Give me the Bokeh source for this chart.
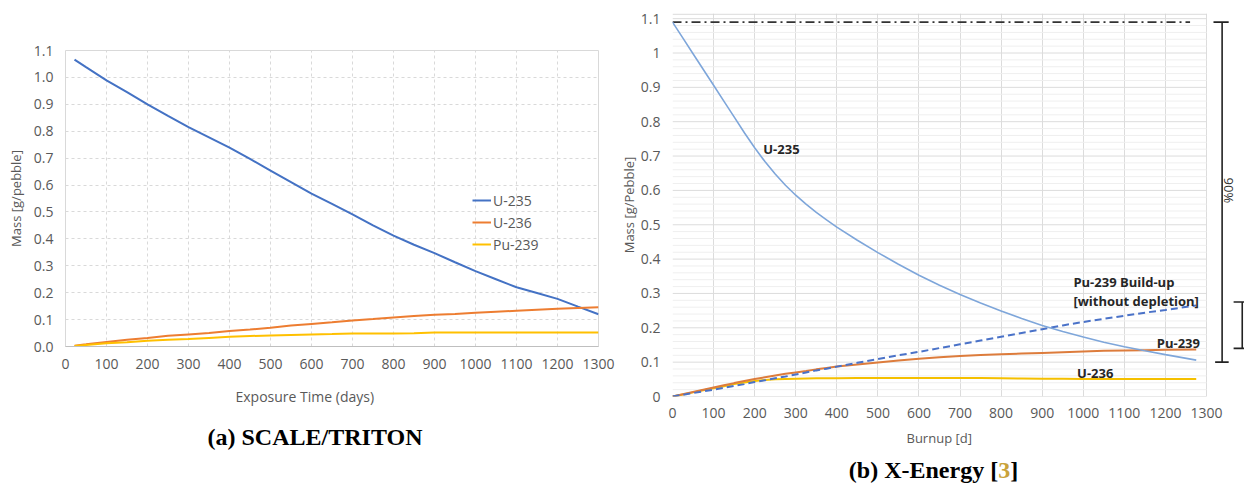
import numpy as np
from bokeh.plotting import figure
from bokeh.models import FixedTicker, Div, Title
from bokeh.layouts import row, column
from bokeh.embed import file_html
from bokeh.resources import INLINE
from bokeh.core.properties import value

# ---------------- (a) SCALE/TRITON data ----------------
a_days = [22, 50, 100, 150, 200, 250, 300, 350, 400, 450, 500, 550, 600, 650,
          700, 750, 800, 850, 900, 950, 1000, 1050, 1100, 1150, 1200, 1250, 1300]
a_u235 = [1.066, 1.038, 0.989, 0.945, 0.900, 0.857, 0.815, 0.777, 0.739, 0.697,
          0.654, 0.611, 0.568, 0.530, 0.491, 0.450, 0.412, 0.378, 0.347, 0.313,
          0.280, 0.250, 0.220, 0.199, 0.177, 0.148, 0.120]
a_u236 = [0.003, 0.008, 0.017, 0.025, 0.032, 0.040, 0.045, 0.050, 0.058, 0.063,
          0.070, 0.078, 0.084, 0.090, 0.097, 0.102, 0.108, 0.113, 0.118, 0.121,
          0.125, 0.129, 0.133, 0.137, 0.140, 0.143, 0.146]
a_pu239 = [0.002, 0.006, 0.012, 0.016, 0.021, 0.025, 0.028, 0.032, 0.036, 0.039,
           0.041, 0.043, 0.045, 0.046, 0.048, 0.048, 0.048, 0.049, 0.052, 0.052,
           0.052, 0.052, 0.052, 0.052, 0.052, 0.052, 0.052]
a_xticks = list(range(0, 1301, 100))
a_yticks = [0.0, 0.1, 0.2, 0.3, 0.4, 0.5, 0.6, 0.7, 0.8, 0.9, 1.0, 1.1]

# ---------------- (b) X-Energy data ----------------
b_days = [0, 25, 50, 75, 100, 125, 150, 175, 200, 225, 250, 275, 300, 325, 350,
          375, 400, 450, 500, 550, 600, 650, 700, 750, 800, 850, 900, 950, 1000,
          1050, 1100, 1150, 1200, 1275]
b_u235 = [1.090, 1.044, 0.998, 0.952, 0.906, 0.860, 0.814, 0.768, 0.724, 0.684,
          0.648, 0.615, 0.586, 0.560, 0.536, 0.514, 0.493, 0.455, 0.419, 0.385,
          0.353, 0.324, 0.297, 0.272, 0.249, 0.227, 0.207, 0.189, 0.173, 0.158,
          0.145, 0.133, 0.122, 0.106]
b_pu239 = [0.0, 0.0065, 0.013, 0.0195, 0.026, 0.0325, 0.039, 0.045, 0.051, 0.056,
           0.061, 0.066, 0.070, 0.074, 0.079, 0.083, 0.087, 0.093, 0.099, 0.105,
           0.110, 0.114, 0.118, 0.121, 0.123, 0.125, 0.127, 0.129, 0.131, 0.133,
           0.134, 0.135, 0.136, 0.137]
b_u236 = [0.0, 0.006, 0.012, 0.018, 0.024, 0.030, 0.036, 0.041, 0.045, 0.048,
          0.050, 0.051, 0.052, 0.0525, 0.053, 0.053, 0.053, 0.0535, 0.054, 0.054,
          0.054, 0.054, 0.054, 0.0535, 0.053, 0.0525, 0.052, 0.0515, 0.051, 0.051,
          0.051, 0.051, 0.051, 0.051]
b_pu239_nodep = [0.0, 0.005, 0.010, 0.015, 0.020, 0.025, 0.031, 0.036, 0.042, 0.047,
                 0.053, 0.058, 0.064, 0.070, 0.076, 0.081, 0.087, 0.098, 0.109, 0.120,
                 0.130, 0.141, 0.152, 0.163, 0.174, 0.185, 0.196, 0.207, 0.217, 0.226,
                 0.235, 0.244, 0.252, 0.265]
b_initial = [1.09, 1.09]
b_initial_days = [0, 1260]
b_reduction = [1.09, 0.10]          # 90 % bracket
b_nodep_bracket = [0.275, 0.14]     # partial bracket at right edge
b_xticks = list(range(0, 1301, 100))
b_yticks = [0.0, 0.1, 0.2, 0.3, 0.4, 0.5, 0.6, 0.7, 0.8, 0.9, 1.0, 1.1]
b_ylabels = ["0", "0.1", "0.2", "0.3", "0.4", "0.5", "0.6", "0.7", "0.8", "0.9", "1", "1.1"]

FONT = "Open Sans"
GREY = "#595959"


def style_axis(ax):
    ax.major_tick_line_color = None
    ax.minor_tick_line_color = None
    ax.major_tick_out = 0
    ax.major_tick_in = 0
    ax.minor_tick_out = 0
    ax.minor_tick_in = 0
    ax.major_label_text_font = FONT
    ax.major_label_text_font_size = "14px"
    ax.major_label_text_color = GREY
    ax.axis_label_text_font = FONT
    ax.axis_label_text_font_size = "13px"
    ax.axis_label_text_font_style = "normal"
    ax.axis_label_text_color = GREY


def x_title(text, offset, standoff, size):
    return Title(text=text, align="left", offset=offset, standoff=standoff,
                 text_font=FONT, text_font_size=size, text_font_style="normal",
                 text_color=GREY)


# ================= panel (a) =================
pa = figure(width=616, height=425, x_range=(0, 1300), y_range=(0, 1.1),
            output_backend="svg", toolbar_location=None,
            min_border_left=65, min_border_right=18, min_border_top=50, min_border_bottom=79)
pa.outline_line_color = "#d9d9d9"
pa.xaxis.ticker = FixedTicker(ticks=a_xticks)
pa.yaxis.ticker = FixedTicker(ticks=a_yticks)
pa.yaxis.major_label_overrides = {t: f"{t:.1f}" for t in a_yticks}
style_axis(pa.xaxis[0])
style_axis(pa.yaxis[0])
pa.xaxis.axis_line_color = "#bfbfbf"
pa.yaxis.axis_line_color = None
pa.xaxis.major_label_standoff = 12
pa.yaxis.major_label_standoff = 12
pa.yaxis.axis_label = "Mass [g/pebble]"
pa.yaxis.axis_label_standoff = 6
pa.add_layout(x_title("Exposure Time (days)", 170, 26, "14px"), "below")
for g in (pa.xgrid[0], pa.ygrid[0]):
    g.grid_line_color = "#d9d9d9"
    g.grid_line_dash = "3 3"
pa.xgrid.ticker = FixedTicker(ticks=a_xticks)
pa.ygrid.ticker = FixedTicker(ticks=a_yticks)

pa.line(a_days, a_u235, line_color="#4472C4", line_width=2, legend_label="U-235")
pa.line(a_days, a_u236, line_color="#ED7D31", line_width=2, legend_label="U-236")
pa.line(a_days, a_pu239, line_color="#FFC000", line_width=2, legend_label="Pu-239")
lg = pa.legend[0]
lg.location = (407, 92)
lg.padding = 0
lg.margin = 0
lg.spacing = 2
lg.label_height = 20
lg.glyph_height = 20
lg.glyph_width = 19
lg.label_standoff = 2
lg.border_line_color = None
lg.background_fill_alpha = 0
lg.label_text_font = FONT
lg.label_text_font_size = "14px"
lg.label_text_color = GREY

cap_a = Div(text="(a) SCALE/TRITON", width=616, height=24, margin=(0, 0, 0, 0),
            styles={"text-align": "center", "font-family": "Liberation Serif",
                    "font-weight": "bold", "font-size": "24px", "color": "#000",
                    "width": "616px", "line-height": "24px", "padding-left": "14px",
                    "box-sizing": "border-box"})

# ================= panel (b) =================
pb = figure(width=628, height=458, x_range=(0, 1392.5), y_range=(0, 1.115),
            output_backend="svg", toolbar_location=None,
            min_border_left=56, min_border_right=0, min_border_top=13, min_border_bottom=62)
pb.outline_line_color = None
pb.xaxis.ticker = FixedTicker(ticks=b_xticks)
pb.yaxis.ticker = FixedTicker(ticks=b_yticks)
pb.yaxis.major_label_overrides = dict(zip(b_yticks, b_ylabels))
style_axis(pb.xaxis[0])
style_axis(pb.yaxis[0])
pb.xaxis.axis_line_color = None
pb.yaxis.axis_line_color = None
pb.xaxis.major_label_standoff = 11
pb.yaxis.major_label_standoff = 12
pb.yaxis.axis_label = "Mass [g/Pebble]"
pb.yaxis.axis_label_standoff = 0
pb.add_layout(x_title("Burnup [d]", 234, 13, "13px"), "below")
pb.xgrid.ticker = FixedTicker(ticks=b_xticks)
pb.xgrid.grid_line_color = "#dcdcdc"
pb.ygrid.grid_line_color = None

# horizontal grid lines limited to the 0-1300 plot area
minor = [round(i * 0.02, 2) for i in range(1, 56) if i % 5 != 0]
pb.segment(x0=0, x1=1300, y0=minor, y1=minor, line_color="#efefef", line_width=1)
pb.segment(x0=0, x1=1300, y0=b_yticks[1:], y1=b_yticks[1:], line_color="#dcdcdc", line_width=1)
pb.segment(x0=[0, 0], x1=[1300, 1300], y0=[0, 1.113], y1=[0, 1.113],
           line_color="#d4d4d4", line_width=1)

pb.line(b_initial_days, b_initial, line_color="#333333", line_width=1.6, line_dash="9 4 2 4")
pb.line(b_days, b_u236, line_color="#F5C000", line_width=2)
pb.line(b_days, b_pu239, line_color="#DD7C3C", line_width=2)
pb.line(b_days, b_pu239_nodep, line_color="#4A72C8", line_width=2, line_dash="7 4")
pb.line(b_days, b_u235, line_color="#7EA6DA", line_width=1.6)

txt = dict(text_font=value(FONT), text_font_style="bold", text_font_size="13px",
           text_color="#262626", text_baseline="middle")
pb.text(x=[221], y=[0.721], text=["U-235"], text_align="left", **txt)
pb.text(x=[976, 976], y=[0.332, 0.279], text=["Pu-239 Build-up", "[without depletion]"],
        text_align="left", **txt)
pb.text(x=[1284], y=[0.157], text=["Pu-239"], text_align="right", **txt)
pb.text(x=[985], y=[0.067], text=["U-236"], text_align="left", **txt)

# 90 % reduction bracket
bx = 1338
pb.segment(x0=[bx], x1=[bx], y0=[b_reduction[0]], y1=[b_reduction[1]],
           line_color="#222222", line_width=1.6)
pb.segment(x0=[bx - 21, bx - 17], x1=[bx + 16, bx + 16], y0=b_reduction, y1=b_reduction,
           line_color="#222222", line_width=1.6)
pb.text(x=[1355], y=[0.6], text=["90%"], angle=-np.pi / 2, text_align="center",
        text_baseline="middle", text_font=value(FONT), text_font_size="13px",
        text_color="#333333")
bx2 = 1387
pb.segment(x0=[bx2], x1=[bx2], y0=[b_nodep_bracket[0]], y1=[b_nodep_bracket[1]],
           line_color="#222222", line_width=1.6)
pb.segment(x0=[bx2 - 21, bx2 - 21], x1=[bx2 + 5, bx2 + 5], y0=b_nodep_bracket,
           y1=b_nodep_bracket, line_color="#222222", line_width=1.6)

cap_b = Div(text='(b) X-Energy [<span style="color:#C9A23A">3</span>]', width=628, height=24,
            margin=(0, 0, 0, 0),
            styles={"text-align": "center", "font-family": "Liberation Serif",
                    "font-weight": "bold", "font-size": "24px", "color": "#000",
                    "width": "628px", "line-height": "24px", "padding-left": "7px",
                    "box-sizing": "border-box"})

layout = row(column(pa, cap_a), column(pb, cap_b))
open("out.html", "w").write(file_html(layout, INLINE))
